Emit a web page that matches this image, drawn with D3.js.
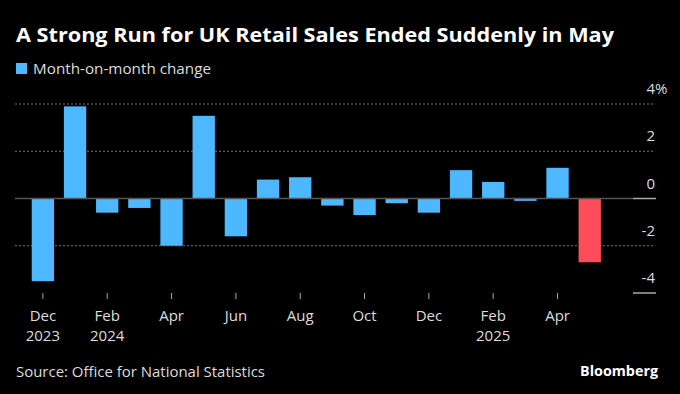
<!DOCTYPE html>
<html>
<head>
<meta charset="utf-8">
<script src="https://cdn.jsdelivr.net/npm/d3@7"></script>
<style>
  html, body { margin: 0; padding: 0; background: #000; }
  text { font-family: "Open Sans", Roboto, sans-serif; }
</style>
</head>
<body>
<script>
(function() {
    'use strict';

    // data
    var months = ['Dec 2023', 'Jan 2024', 'Feb 2024', 'Mar 2024', 'Apr 2024', 'May 2024',
        'Jun 2024', 'Jul 2024', 'Aug 2024', 'Sep 2024', 'Oct 2024', 'Nov 2024',
        'Dec 2024', 'Jan 2025', 'Feb 2025', 'Mar 2025', 'Apr 2025', 'May 2025'];
    var changes = [-3.5, 3.9, -0.6, -0.4, -2.0, 3.5, -1.6, 0.8, 0.9, -0.3,
        -0.7, -0.2, -0.6, 1.2, 0.7, -0.1, 1.3, -2.7];
    var xTickMonths = ['Dec 2023', 'Feb 2024', 'Apr 2024', 'Jun 2024', 'Aug 2024',
        'Oct 2024', 'Dec 2024', 'Feb 2025', 'Apr 2025'];
    var xTickLabels = [['Dec', '2023'], ['Feb', '2024'], ['Apr'], ['Jun'], ['Aug'],
        ['Oct'], ['Dec'], ['Feb', '2025'], ['Apr']];
    var yTicks = [4, 2, 0, -2, -4];

    var width = 680, height = 394;

    var svg = d3.select('body').append('svg')
        .attr('width', width)
        .attr('height', height);

    svg.append('rect')
        .attr('width', width)
        .attr('height', height)
        .attr('fill', '#000');

    var x = d3.scaleBand()
        .domain(months)
        .range([26.8, 605.8])
        .paddingInner(0.306)
        .paddingOuter(0.153);

    var y = d3.scaleLinear()
        .domain([-4, 4])
        .range([293, 104]);

    // title + legend
    svg.append('text')
        .attr('x', 16)
        .attr('y', 42)
        .attr('fill', '#fff')
        .attr('font-size', 20)
        .attr('font-weight', 'bold')
        .attr('textLength', 598)
        .attr('lengthAdjust', 'spacingAndGlyphs')
        .text('A Strong Run for UK Retail Sales Ended Suddenly in May');

    svg.append('rect')
        .attr('x', 16)
        .attr('y', 63)
        .attr('width', 11)
        .attr('height', 11)
        .attr('fill', '#4db8ff');

    svg.append('text')
        .attr('x', 33)
        .attr('y', 74)
        .attr('fill', '#ddd')
        .attr('font-size', 15)
        .attr('textLength', 178)
        .attr('lengthAdjust', 'spacingAndGlyphs')
        .text('Month-on-month change');

    // gridlines
    svg.append('g')
        .selectAll('line')
        .data(yTicks.filter(function(d) { return d !== 0 && d !== -4; }))
        .join('line')
        .attr('x1', 15)
        .attr('x2', 655)
        .attr('y1', function(d) { return y(d); })
        .attr('y2', function(d) { return y(d); })
        .attr('stroke', '#777')
        .attr('stroke-width', 1)
        .attr('stroke-dasharray', '2,2');

    // bars
    svg.append('g')
        .selectAll('rect')
        .data(changes)
        .join('rect')
        .attr('x', function(d, i) { return x(months[i]); })
        .attr('width', x.bandwidth())
        .attr('y', function(d) { return y(Math.max(0, d)); })
        .attr('height', function(d) { return Math.abs(y(d) - y(0)); })
        .attr('fill', function(d, i) { return i === changes.length - 1 ? '#ff4d5b' : '#4db8ff'; });

    // zero line
    svg.append('line')
        .attr('x1', 15)
        .attr('x2', 633)
        .attr('y1', y(0))
        .attr('y2', y(0))
        .attr('stroke', '#555')
        .attr('stroke-width', 1.5);

    // right axis
    var yAxis = svg.append('g');
    yAxis.selectAll('line')
        .data([0, -4])
        .join('line')
        .attr('x1', 633)
        .attr('x2', 656)
        .attr('y1', function(d) { return y(d); })
        .attr('y2', function(d) { return y(d); })
        .attr('stroke', '#aaa')
        .attr('stroke-width', 1.5);

    yAxis.selectAll('text')
        .data(yTicks)
        .join('text')
        .attr('x', 655)
        .attr('y', function(d) { return y(d) - 10; })
        .attr('text-anchor', 'end')
        .attr('fill', '#ddd')
        .attr('font-size', 15)
        .text(function(d) { return d; });

    yAxis.append('text')
        .attr('x', 655)
        .attr('y', y(yTicks[0]) - 10)
        .attr('fill', '#ddd')
        .attr('font-size', 15)
        .text('%');

    // x axis
    var xAxis = svg.append('g');
    xAxis.selectAll('line')
        .data(xTickMonths)
        .join('line')
        .attr('x1', function(d) { return x(d) + x.bandwidth() / 2; })
        .attr('x2', function(d) { return x(d) + x.bandwidth() / 2; })
        .attr('y1', 293)
        .attr('y2', 299)
        .attr('stroke', '#aaa')
        .attr('stroke-width', 1);

    xAxis.selectAll('text')
        .data(xTickMonths)
        .join('text')
        .attr('x', function(d) { return x(d) + x.bandwidth() / 2; })
        .attr('y', 321)
        .attr('text-anchor', 'middle')
        .attr('fill', '#ddd')
        .attr('font-size', 15)
        .each(function(d, i) {
            var t = d3.select(this);
            xTickLabels[i].forEach(function(s, j) {
                t.append('tspan')
                    .attr('x', x(d) + x.bandwidth() / 2)
                    .attr('dy', j === 0 ? 0 : 19.5)
                    .text(s);
            });
        });

    // footer
    svg.append('text')
        .attr('x', 16)
        .attr('y', 377)
        .attr('fill', '#ddd')
        .attr('font-size', 15)
        .attr('textLength', 249)
        .attr('lengthAdjust', 'spacingAndGlyphs')
        .text('Source: Office for National Statistics');

    svg.append('text')
        .attr('x', 658)
        .attr('y', 376)
        .attr('text-anchor', 'end')
        .attr('fill', '#fff')
        .attr('font-size', 15)
        .attr('font-weight', 'bold')
        .attr('textLength', 78)
        .attr('lengthAdjust', 'spacingAndGlyphs')
        .text('Bloomberg');
}());
</script>
</body>
</html>
